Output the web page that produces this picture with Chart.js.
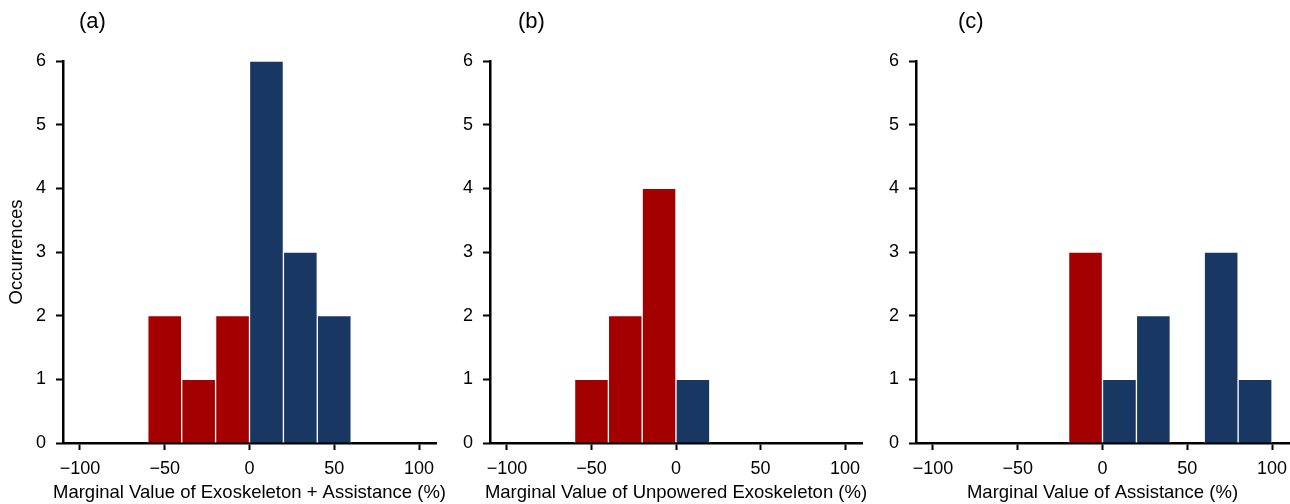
<!DOCTYPE html>
<html>
<head>
<meta charset="utf-8">
<script src="https://cdn.jsdelivr.net/npm/chart.js@4.4.1/dist/chart.umd.min.js"></script>
<style>
  html, body { margin: 0; padding: 0; background: #fff; }
  #wrap { position: relative; width: 1290px; height: 504px; overflow: hidden; }
  canvas { position: absolute; top: 0; }
</style>
</head>
<body>
<div id="wrap">
  <canvas id="panelA" width="452" height="504" style="left:0px"></canvas>
  <canvas id="panelB" width="430" height="504" style="left:440px"></canvas>
  <canvas id="panelC" width="420" height="504" style="left:870px"></canvas>
</div>
<script>
// Histogram bins (width 20 %), centre of each bin
const binCenters = [-90, -70, -50, -30, -10, 10, 30, 50, 70, 90];

// Occurrences per bin
const countsA = [0, 0, 2, 1, 2, 6, 3, 2, 0, 0];
const countsB = [0, 0, 1, 2, 4, 1, 0, 0, 0, 0];
const countsC = [0, 0, 0, 0, 3, 1, 2, 0, 3, 1];

const xTickValues = [-100, -50, 0, 50, 100];
const yMax = 6;

const panelLabels = ["(a)", "(b)", "(c)"];
const xTitles = [
  "Marginal Value of Exoskeleton + Assistance (%)",
  "Marginal Value of Unpowered Exoskeleton (%)",
  "Marginal Value of Assistance (%)",
];
const yTitle = "Occurrences";

const RED = "#a40000";
const BLUE = "#193763";
const FONT = "'Liberation Sans', Arial, Helvetica, sans-serif";

Chart.defaults.font.family = FONT;
Chart.defaults.color = "#000";

function makePanel(canvasId, counts, label, xTitle, opts) {
  const points = binCenters
    .map((x, i) => ({ x, y: counts[i] }))
    .filter((p) => p.y > 0);

  return new Chart(document.getElementById(canvasId), {
    type: "bar",
    data: {
      datasets: [
        {
          data: points,
          backgroundColor: points.map((p) => (p.x < 0 ? RED : BLUE)),
          borderColor: "#fff",
          borderWidth: 1,
          borderSkipped: "bottom",
          categoryPercentage: 1,
          barPercentage: 1,
        },
      ],
    },
    options: {
      responsive: false,
      animation: false,
      layout: {
        padding: { top: 61, right: opts.padRight, bottom: 0, left: 0 },
      },
      plugins: {
        legend: { display: false },
        tooltip: { enabled: false },
      },
      scales: {
        x: {
          type: "linear",
          min: -110,
          max: 110,
          offset: false,
          afterBuildTicks(scale) {
            scale.ticks = xTickValues.map((v) => ({ value: v }));
          },
          afterFit(scale) {
            scale.height = 61;
            scale.paddingLeft = 0;
            scale.paddingRight = 0;
          },
          border: { display: true, color: "#000", width: 2.5 },
          grid: {
            offset: false,
            drawOnChartArea: false,
            drawTicks: true,
            tickLength: 7,
            tickWidth: 2,
            tickColor: "#000",
          },
          ticks: {
            padding: 8,
            maxRotation: 0,
            font: { size: 18 },
            callback: (v) => (v < 0 ? "\u2212" + Math.abs(v) : String(v)),
          },
          // title drawn by the plugin below so it is not squeezed to the axis width
          title: { display: false },
        },
        y: {
          type: "linear",
          min: 0,
          max: yMax,
          afterFit(scale) {
            scale.width = opts.yWidth;
          },
          border: { display: true, color: "#000", width: 2.5 },
          grid: {
            drawOnChartArea: false,
            drawTicks: true,
            tickLength: 7,
            tickWidth: 2,
            tickColor: "#000",
          },
          ticks: {
            stepSize: 1,
            padding: 10,
            font: { size: 18 },
          },
          title: {
            display: opts.showYTitle,
            text: yTitle,
            font: { size: 18.5 },
            padding: { top: 6, bottom: 0 },
          },
        },
      },
    },
    plugins: [
      {
        id: "panelText",
        afterDraw(chart) {
          const ctx = chart.ctx;
          const xs = chart.scales.x;
          ctx.save();
          ctx.fillStyle = "#000";
          ctx.textBaseline = "middle";
          ctx.font = "22px " + FONT;
          ctx.textAlign = "left";
          ctx.fillText(label, opts.labelX, 22);
          ctx.font = "18.5px " + FONT;
          ctx.textAlign = "center";
          ctx.fillText(xTitle, (xs.left + xs.right) / 2, 492.5);
          ctx.restore();
        },
      },
    ],
  });
}

makePanel("panelA", countsA, panelLabels[0], xTitles[0], {
  yWidth: 63, padRight: 16, showYTitle: true, labelX: 79,
});
makePanel("panelB", countsB, panelLabels[1], xTitles[1], {
  yWidth: 50, padRight: 8, showYTitle: false, labelX: 78,
});
makePanel("panelC", countsC, panelLabels[2], xTitles[2], {
  yWidth: 46, padRight: 1, showYTitle: false, labelX: 88,
});
</script>
</body>
</html>
